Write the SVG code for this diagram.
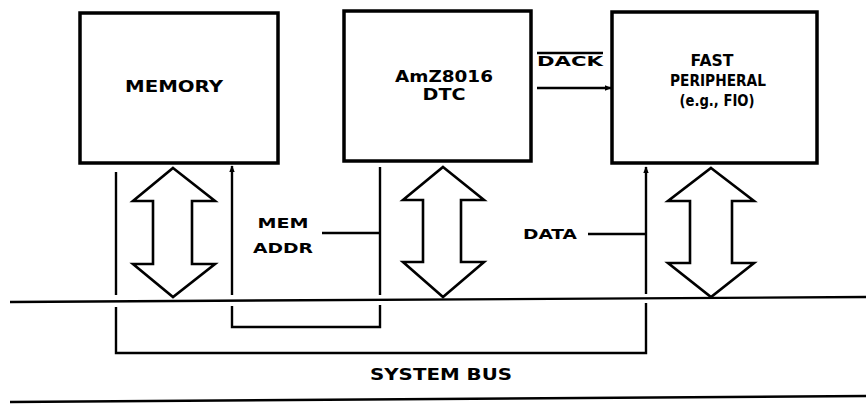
<svg xmlns="http://www.w3.org/2000/svg" width="866" height="404" viewBox="0 0 866 404">
  <defs>
    <style>
      .box { fill: #fff; stroke: #000; stroke-width: 3.5; stroke-linejoin: miter; }
      .dbl { fill: #fff; stroke: #000; stroke-width: 2.6; stroke-linejoin: miter; }
      .ln { fill: none; stroke: #000; stroke-width: 2.4; }
      .lbl { font-family: "DejaVu Sans", "Liberation Sans", sans-serif; font-weight: bold; fill: #000; }
    </style>
    <marker id="ah" viewBox="0 0 10 10" refX="9" refY="5" markerWidth="7" markerHeight="7" markerUnits="userSpaceOnUse" orient="auto">
      <path d="M0,1 L10,5 L0,9 Z" fill="#000"/>
    </marker>
  </defs>
  <rect width="866" height="404" fill="#fff"/>

  <g id="memory">
    <rect class="box" x="80" y="13" width="198" height="150"/>
    <text class="lbl" x="174" y="92" font-size="15" text-anchor="middle" textLength="98" lengthAdjust="spacingAndGlyphs">MEMORY</text>
  </g>

  <g id="dtc">
    <rect class="box" x="344" y="11" width="187" height="150"/>
    <text class="lbl" x="444" y="82" font-size="15" text-anchor="middle" textLength="98" lengthAdjust="spacingAndGlyphs">AmZ8016</text>
    <text class="lbl" x="444" y="100" font-size="15" text-anchor="middle" textLength="43" lengthAdjust="spacingAndGlyphs">DTC</text>
  </g>

  <g id="peripheral">
    <rect class="box" x="612" y="12" width="205" height="151"/>
    <text class="lbl" x="712" y="66" font-size="15" text-anchor="middle" textLength="43" lengthAdjust="spacingAndGlyphs">FAST</text>
    <text class="lbl" x="718" y="86" font-size="15" text-anchor="middle" textLength="96" lengthAdjust="spacingAndGlyphs">PERIPHERAL</text>
    <text class="lbl" x="717" y="106" font-size="15" text-anchor="middle" textLength="75" lengthAdjust="spacingAndGlyphs">(e.g., FIO)</text>
  </g>

  <g id="system-bus">
    <line class="ln" x1="10" y1="302" x2="866" y2="297"/>
    <line class="ln" x1="10" y1="402" x2="866" y2="396"/>
    <text class="lbl" x="441" y="380" font-size="15" text-anchor="middle" textLength="142" lengthAdjust="spacingAndGlyphs">SYSTEM BUS</text>
  </g>

  <g id="connectors">
    <!-- wide bidirectional arrows -->
    <path class="dbl" d="M173,168 L215,201 L192,201 L192,264 L215,264 L173,297 L133,264 L153,264 L153,201 L133,201 Z"/>
    <path class="dbl" d="M443,167 L484,200 L461,200 L461,262 L484,262 L443,297 L403,262 L423,262 L423,200 L403,200 Z"/>
    <path class="dbl" d="M711,168 L754,201 L732,201 L732,263 L754,263 L711,297 L668,263 L690,263 L690,201 L668,201 Z"/>

    <!-- DACK -->
    <line class="ln" x1="537" y1="88" x2="611" y2="88" marker-end="url(#ah)"/>
    <line class="ln" x1="537" y1="53" x2="603" y2="53" stroke-width="1.8"/>
    <text class="lbl" x="570" y="66" font-size="14" text-anchor="middle" textLength="66" lengthAdjust="spacingAndGlyphs">DACK</text>

    <!-- memory side line to outer bracket -->
    <line class="ln" x1="116" y1="172" x2="116" y2="295"/>
    <!-- memory address line (up into memory) -->
    <line class="ln" x1="232" y1="295" x2="232" y2="166" marker-end="url(#ah)"/>
    <!-- DTC address line -->
    <line class="ln" x1="380" y1="167" x2="380" y2="295"/>
    <!-- peripheral data line (up into peripheral) -->
    <line class="ln" x1="646" y1="294" x2="646" y2="167" marker-end="url(#ah)"/>

    <!-- below bus: inner bracket (address) -->
    <path class="ln" d="M232,306 L232,327 L380,327 L380,305"/>
    <!-- below bus: outer bracket (data) -->
    <path class="ln" d="M116,307 L116,353 L646,353 L646,303"/>

    <!-- MEM ADDR label and leader -->
    <text class="lbl" x="283" y="228" font-size="14" text-anchor="middle" textLength="51" lengthAdjust="spacingAndGlyphs">MEM</text>
    <text class="lbl" x="283" y="253" font-size="14" text-anchor="middle" textLength="60" lengthAdjust="spacingAndGlyphs">ADDR</text>
    <line class="ln" x1="322" y1="233" x2="379" y2="233" stroke-width="2"/>

    <!-- DATA label and leader -->
    <text class="lbl" x="550" y="239" font-size="14" text-anchor="middle" textLength="54" lengthAdjust="spacingAndGlyphs">DATA</text>
    <line class="ln" x1="588" y1="234" x2="645" y2="234" stroke-width="2"/>
  </g>
</svg>
